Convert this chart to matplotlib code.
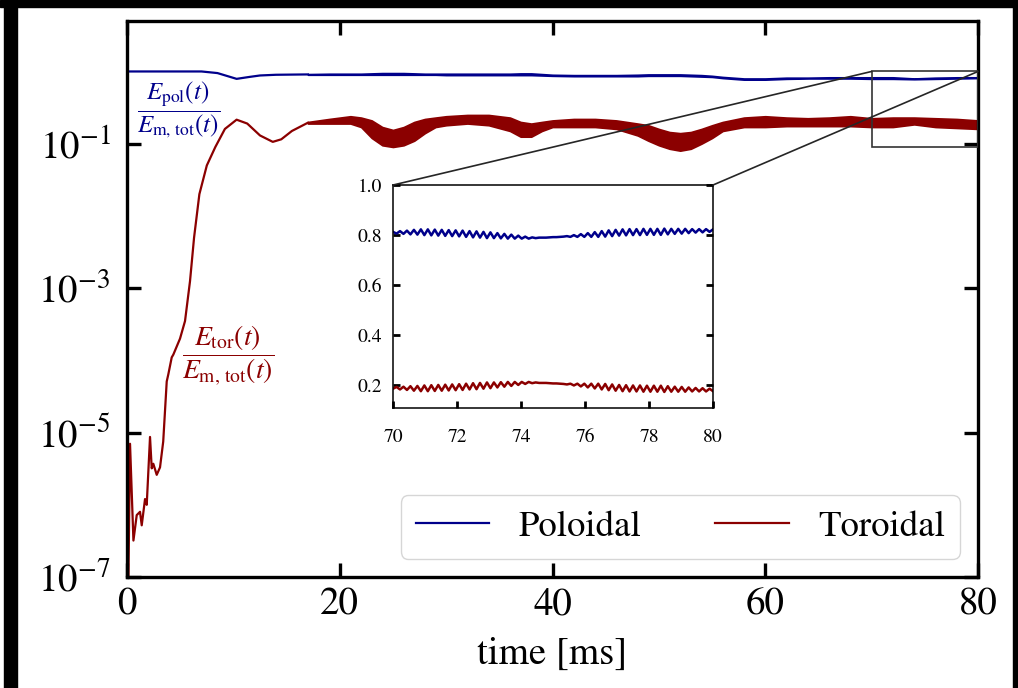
import numpy as np
import matplotlib
matplotlib.use('Agg')
import matplotlib.pyplot as plt
from matplotlib.patches import Rectangle, ConnectionPatch

plt.rcParams['font.family'] = 'STIXGeneral'
plt.rcParams['mathtext.fontset'] = 'stix'

# ################## Data
# early (smooth) part of the toroidal energy fraction
t_tor_early = [0.05, 0.28, 0.6, 0.91, 1.22, 1.38, 1.69, 1.85, 2.16, 2.32, 2.47, 2.79,
               3.1, 3.4, 3.73, 3.88, 4.2, 4.35, 4.98, 5.45, 5.92, 6.3, 6.8, 7.5,
               8.3, 9.2, 10.3, 11.3, 12.5, 13.7, 14.5, 15.5, 17.0]
tor_early = [1e-8, 7e-6, 3.2e-7, 7.2e-7, 8e-7, 5.2e-7, 1.2e-6, 1e-6, 8.7e-6, 3.2e-6, 3.7e-6, 2.6e-6,
             3.3e-6, 7.5e-6, 5.1e-5, 6.4e-5, 1.1e-4, 1.2e-4, 2e-4, 3.5e-4, 1.25e-3, 5e-3, 0.02, 0.05,
             0.09, 0.16, 0.215, 0.19, 0.13, 0.106, 0.115, 0.15, 0.195]

# early part of the poloidal energy fraction
t_pol_early = [0.0, 7.0, 8.5, 10.3, 11.5, 12.5, 14.0, 17.0]
pol_early = [1.0, 1.0, 0.95, 0.79, 0.84, 0.88, 0.90, 0.91]

# later part: fast oscillations show as a band (upper / lower envelope)
t_band = [17, 19, 21, 22, 23, 24, 25, 26, 27, 28, 29, 30, 32, 34, 36, 37, 38, 39, 40, 42, 44, 46,
          48, 49, 50, 51, 52, 53, 54, 55, 56, 58, 60, 62, 64, 66, 68, 70, 72, 74, 76, 78, 80]
tor_hi = [.20, .22, .24, .23, .21, .17, .155, .17, .20, .22, .23, .24, .25, .25, .23, .20, .19, .20, .21, .22, .22, .21,
          .19, .18, .16, .145, .14, .145, .16, .18, .20, .23, .24, .23, .225, .23, .24, .225, .23, .23, .225, .22, .21]
tor_lo = [.19, .19, .19, .17, .12, .095, .09, .095, .11, .14, .17, .18, .19, .18, .15, .125, .125, .15, .17, .17, .17, .16,
          .13, .11, .095, .085, .08, .085, .10, .12, .15, .17, .17, .175, .175, .175, .175, .17, .17, .185, .17, .165, .16]
pol_hi = [.92, .93, .93, .93, .94, .95, .95, .95, .94, .93, .93, .93, .93, .93, .93, .94, .94, .92, .90, .89, .89, .89,
          .90, .91, .91, .91, .91, .90, .89, .87, .84, .80, .80, .82, .82, .83, .83, .83, .83, .80, .82, .83, .83]
pol_lo = [.90, .90, .90, .90, .90, .90, .90, .90, .90, .90, .90, .89, .89, .89, .89, .89, .89, .88, .87, .86, .86, .86,
          .86, .87, .87, .87, .87, .86, .85, .84, .81, .77, .77, .79, .80, .80, .80, .79, .79, .78, .79, .80, .81]

# zoomed window 70 - 80 ms, alternating maxima / minima of the oscillation
t_zoom = np.linspace(70, 80, 93)
pol_zoom = [.813, .806, .816, .805, .818, .803, .821, .802, .823, .800,
            .823, .799, .822, .798, .821, .797, .820, .796, .819, .795,
            .818, .793, .816, .791, .815, .790, .813, .788, .811, .788,
            .808, .787, .805, .786, .802, .786, .798, .786, .794, .786,
            .791, .788, .790, .790, .790, .791, .792, .792, .793, .794,
            .796, .793, .800, .793, .804, .793, .808, .793, .812, .793,
            .816, .794, .819, .796, .821, .798, .823, .799, .824, .800,
            .824, .800, .825, .801, .825, .801, .825, .801, .826, .803,
            .825, .805, .825, .806, .825, .808, .824, .810, .824, .811,
            .824, .813, .823]
tor_zoom = [.187, .194, .184, .195, .182, .197, .179, .198, .177, .200,
            .177, .201, .178, .202, .179, .203, .180, .204, .181, .205,
            .182, .207, .184, .209, .185, .210, .187, .212, .189, .212,
            .192, .213, .195, .214, .198, .214, .202, .214, .206, .214,
            .209, .212, .210, .210, .210, .209, .208, .208, .207, .206,
            .204, .207, .200, .207, .196, .207, .192, .207, .188, .207,
            .184, .206, .181, .204, .179, .202, .177, .201, .176, .200,
            .176, .200, .175, .199, .175, .199, .175, .199, .174, .197,
            .175, .195, .175, .194, .175, .192, .176, .190, .176, .189,
            .176, .187, .177]

xticks = [0, 20, 40, 60, 80]
yticks = [1e-7, 1e-5, 1e-3, 1e-1]
xticks_zoom = [70, 72, 74, 76, 78, 80]
yticks_zoom = [0.2, 0.4, 0.6, 0.8, 1.0]

blue = '#00008B'
red = '#8B0000'

# ################## Figure
fig = plt.figure(figsize=(10.18, 6.88), dpi=100)
ax = fig.add_axes([0.1248, 0.1613, 0.8359, 0.8082])

ax.plot(t_pol_early, pol_early, color=blue, lw=1.6, label='Poloidal')
ax.fill_between(t_band, pol_lo, pol_hi, color=blue, lw=1.2)
ax.plot(t_tor_early, tor_early, color=red, lw=1.6, label='Toroidal')
ax.fill_between(t_band, tor_lo, tor_hi, color=red, lw=1.2)

ax.set_yscale('log')
ax.set_xlim(0, 80)
ax.set_ylim(1e-7, 5)
ax.set_xticks(xticks)
ax.set_yticks(yticks)
ax.minorticks_off()
ax.tick_params(direction='in', length=10, width=2.4, top=True, right=True, labelsize=28)
ax.tick_params(axis='x', pad=8)
ax.tick_params(axis='y', pad=12)
for s in ax.spines.values():
    s.set_linewidth(2.4)
ax.set_xlabel('time [ms]', fontsize=28, labelpad=10)

# labels next to the curves
ax.text(4.8, 0.3, r'$\dfrac{E_{\rm pol}(t)}{E_{\rm m,\,tot}(t)}$', color=blue,
        fontsize=18, ha='center', va='center')
ax.text(9.5, 1.2e-4, r'$\dfrac{E_{\rm tor}(t)}{E_{\rm m,\,tot}(t)}$', color=red,
        fontsize=20, ha='center', va='center')

ax.legend(loc='lower right', ncol=2, fontsize=26.5)

# ################## Inset
axins = ax.inset_axes([0.3126, 0.304, 0.376, 0.401])
axins.plot(t_zoom, pol_zoom, color=blue, lw=1.8)
axins.plot(t_zoom, tor_zoom, color=red, lw=1.8)
axins.set_xlim(70, 80)
axins.set_ylim(0.11, 1.0)
axins.set_xticks(xticks_zoom)
axins.set_yticks(yticks_zoom)
axins.set_yticklabels(['0.2', '0.4', '0.6', '0.8', '1.0'])
axins.tick_params(direction='in', length=5, width=2, right=True, labelsize=14)
axins.tick_params(axis='x', pad=15)
axins.tick_params(axis='y', pad=8)
for s in axins.spines.values():
    s.set_linewidth(1.1)

# zoom box and connector lines
rect = Rectangle((70, 0.09), 10, 0.91, fill=False, edgecolor='0.2', lw=1.2, zorder=4)
ax.add_patch(rect)
for xa, xb in [(70, 0), (80, 1)]:
    con = ConnectionPatch(xyA=(xa, 1.0), coordsA=ax.transData,
                          xyB=(xb, 1), coordsB=axins.transAxes,
                          color='0.15', lw=1.2, zorder=4)
    fig.add_artist(con)

# black border of the screenshot
fig.patches.append(Rectangle((4 / 1018, 0), 13 / 1018, 1, transform=fig.transFigure,
                             color='k', zorder=10))
fig.patches.append(Rectangle((0, 1 - 7 / 688), 1, 7 / 688, transform=fig.transFigure,
                             color='k', zorder=10))
fig.patches.append(Rectangle((1013 / 1018, 0), 5 / 1018, 1, transform=fig.transFigure,
                             color='k', zorder=10))

fig.savefig('out.png', dpi=100)
